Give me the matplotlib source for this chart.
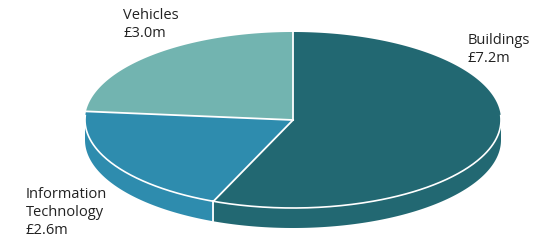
import numpy as np
import matplotlib.pyplot as plt
from matplotlib.patches import Polygon

# Data
labels = ["Buildings\n£7.2m", "Information\nTechnology\n£2.6m", "Vehicles\n£3.0m"]
values = [7.2, 2.6, 3.0]
colors = ["#226872", "#2e8cae", "#72b4b0"]

# Pie geometry (pixel coords, y down)
cx, cy = 293, 120
a, b = 208, 88
depth = 20

def pt(t):
    return cx + a * np.sin(t), cy - b * np.cos(t)

fig = plt.figure(figsize=(5.46, 2.45), dpi=100)
ax = fig.add_axes([0, 0, 1, 1])
ax.set_xlim(0, 546)
ax.set_ylim(245, 0)
ax.axis("off")

total = sum(values)
angles = np.concatenate([[0], np.cumsum(values) / total * 2 * np.pi])

# sides (front half only)
for i in range(len(values)):
    t0, t1 = max(angles[i], np.pi / 2), min(angles[i + 1], 3 * np.pi / 2)
    if t1 <= t0:
        continue
    ts = np.linspace(t0, t1, 100)
    xs, ys = pt(ts)
    poly = np.column_stack([np.concatenate([xs, xs[::-1]]),
                            np.concatenate([ys, ys[::-1] + depth])])
    ax.add_patch(Polygon(poly, closed=True, facecolor=colors[i], edgecolor="none"))

# top face
for i in range(len(values)):
    ts = np.linspace(angles[i], angles[i + 1], 200)
    xs, ys = pt(ts)
    poly = np.column_stack([np.concatenate([[cx], xs]), np.concatenate([[cy], ys])])
    ax.add_patch(Polygon(poly, closed=True, facecolor=colors[i], edgecolor="none"))

# white rim on front and separators
ts = np.linspace(np.pi / 2 - 0.05, 3 * np.pi / 2 + 0.05, 300)
xs, ys = pt(ts)
ax.plot(xs, ys, color="white", lw=1.2)
for t in angles[:-1]:
    x, y = pt(t)
    ax.plot([cx, x], [cy, y], color="white", lw=1.3)
    if np.pi / 2 < t < 3 * np.pi / 2:
        ax.plot([x, x], [y, y + depth], color="white", lw=1.3)

# labels
font = dict(fontsize=10.5, color="#222222", family="Open Sans", linespacing=1.25, va="top", ha="left")
ax.text(468, 33, labels[0], **font)
ax.text(26, 187, labels[1], **font)
ax.text(123, 8, labels[2], **font)

plt.savefig("out.png", dpi=100)
